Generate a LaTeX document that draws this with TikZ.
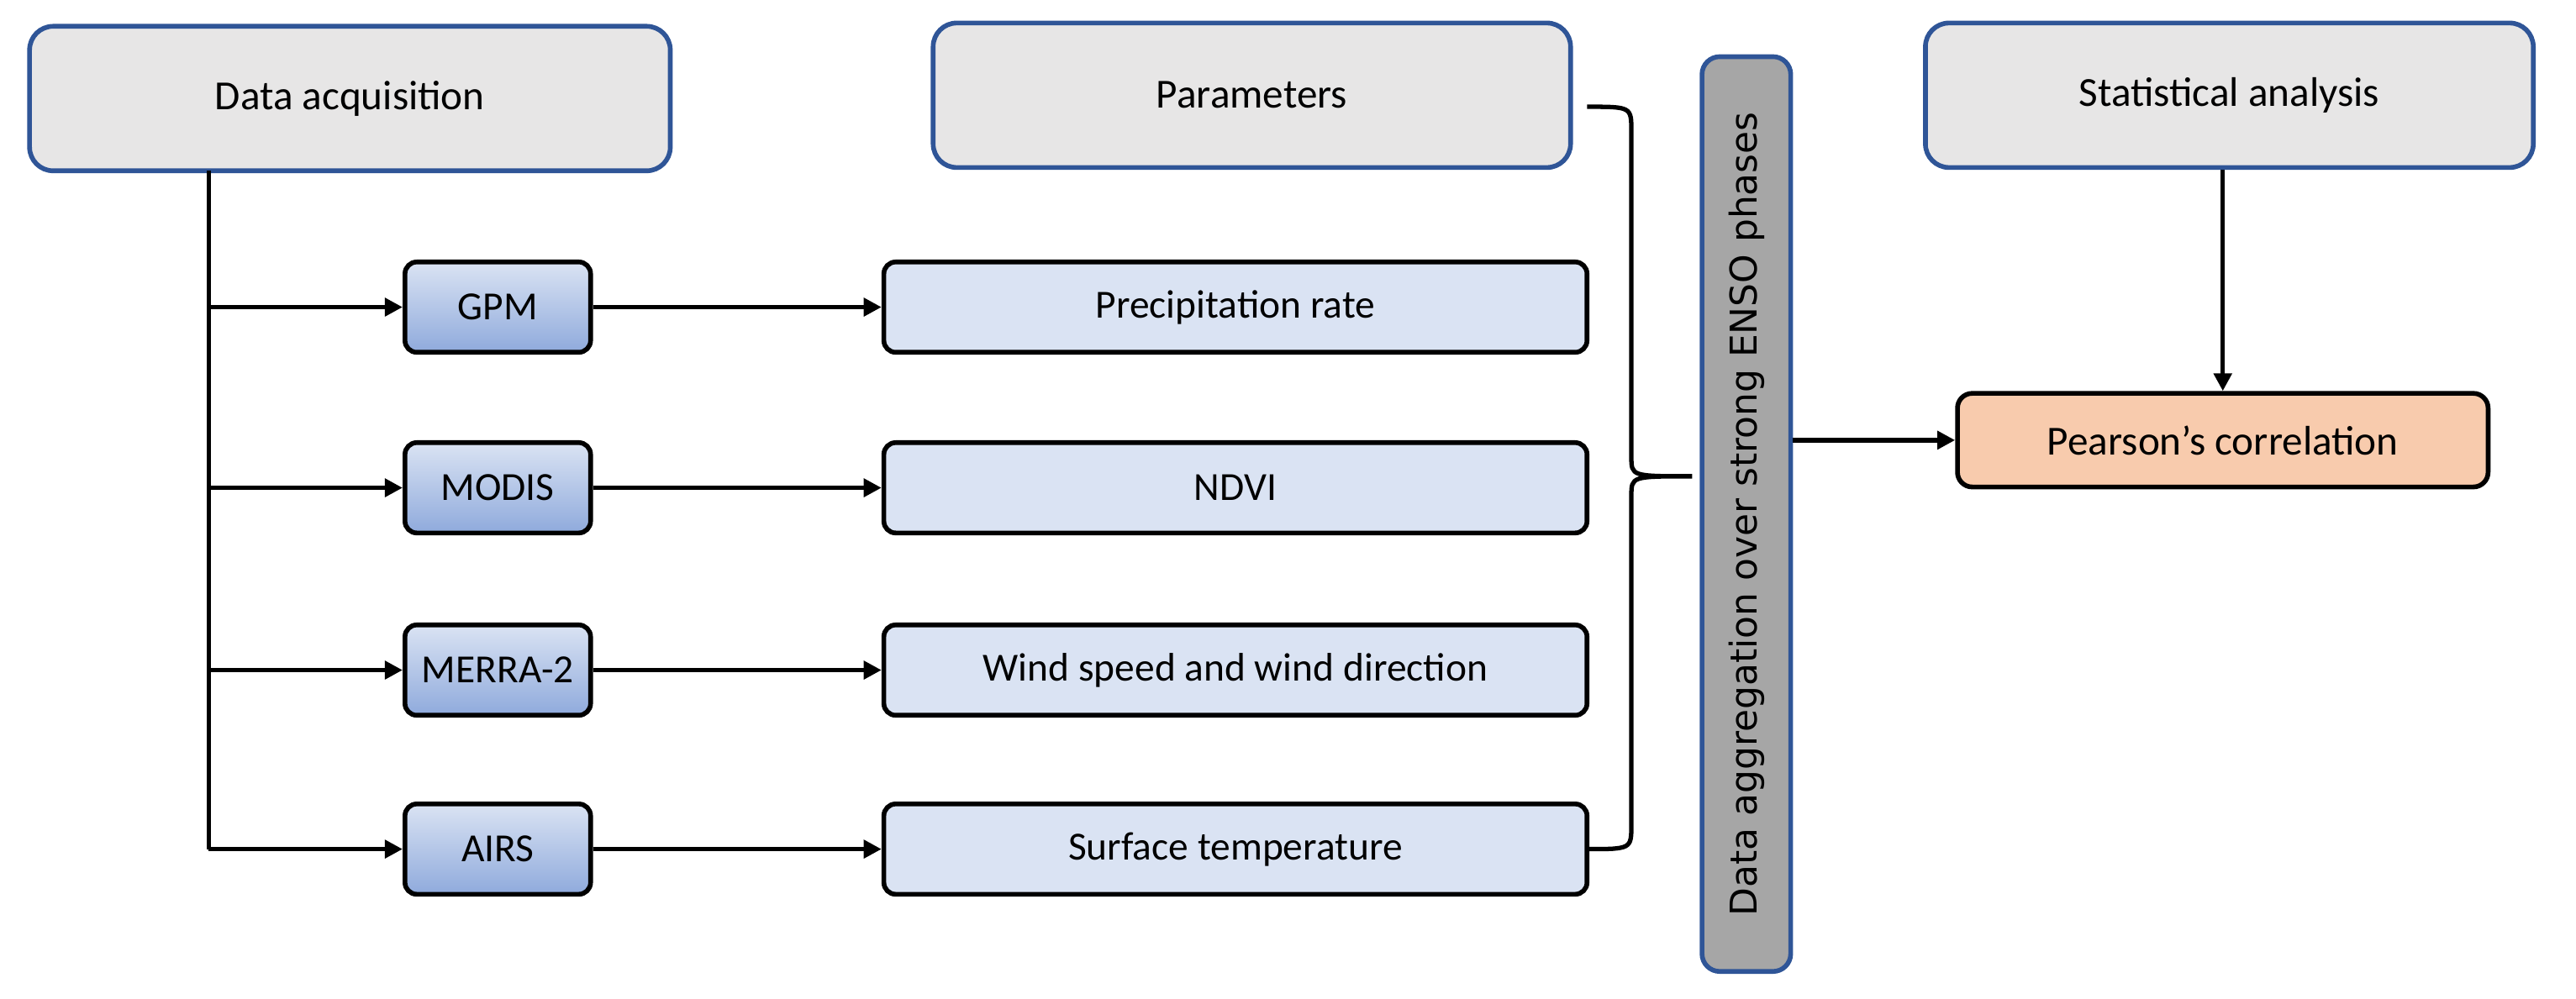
\documentclass[tikz,border=0pt]{standalone}
\usepackage{fontspec}
\setmainfont{Carlito}
\newfontfamily\dv{DejaVu Sans}
\usetikzlibrary{arrows.meta}
\definecolor{hdrfill}{HTML}{E7E6E6}
\definecolor{hdrline}{HTML}{2F5597}
\definecolor{srctop}{HTML}{DAE3F3}
\definecolor{srcbot}{HTML}{8FAADC}
\definecolor{parfill}{HTML}{DAE3F3}
\definecolor{grayfill}{HTML}{A6A6A6}
\definecolor{pfill}{HTML}{F8CBAD}
\begin{document}
\begin{tikzpicture}[x=0.01955cm,y=-0.01955cm,
  hdr/.style={draw=hdrline,line width=1.6pt,fill=hdrfill,rounded corners=8pt,font=\fontsize{14}{16}\selectfont},
  src/.style={draw=black,line width=1.6pt,top color=srctop,bottom color=srcbot,rounded corners=4pt,font=\fontsize{13.5}{15}\selectfont},
  par/.style={draw=black,line width=1.6pt,fill=parfill,rounded corners=4pt,font=\fontsize{13.5}{15}\selectfont},
  arr/.style={line width=1.5pt,-{Triangle[length=6pt,width=6pt]}},
  ln/.style={line width=1.5pt}]
\useasboundingbox (0,0) rectangle (1568,608);
\node[hdr,minimum width=390*0.01955cm,minimum height=88*0.01955cm] (da) at (213,60) {Data acquisition};
\node[hdr,minimum width=388*0.01955cm,minimum height=88*0.01955cm] (pa) at (762,58) {Parameters};
\node[hdr,minimum width=370*0.01955cm,minimum height=88*0.01955cm] (sa) at (1357,58) {Statistical analysis};
\foreach \n/\t/\y in {gpm/GPM/187,modis/MODIS/297,merra/MERRA-2/408,airs/AIRS/517}{
  \node[src,minimum width=113*0.01955cm,minimum height=55*0.01955cm] (\n) at (303,\y) {\t};
}
\node[par,minimum width=428*0.01955cm,minimum height=55*0.01955cm] (p1) at (752,187) {Precipitation rate};
\node[par,minimum width=428*0.01955cm,minimum height=55*0.01955cm] (p2) at (752,297) {NDVI};
\node[par,minimum width=428*0.01955cm,minimum height=55*0.01955cm] (p3) at (752,408) {Wind speed and wind direction};
\node[par,minimum width=428*0.01955cm,minimum height=55*0.01955cm] (p4) at (752,517) {Surface temperature};
\node[draw=hdrline,line width=1.6pt,fill=grayfill,rounded corners=6pt,minimum width=557*0.01955cm,minimum height=54*0.01955cm,rotate=90,font=\dv\fontsize{12.5}{14}\selectfont] (ag) at (1063,313) {Data aggregation over strong ENSO phases};
\node[draw=black,line width=1.6pt,fill=pfill,rounded corners=5pt,minimum width=323*0.01955cm,minimum height=57*0.01955cm,font=\fontsize{14}{16}\selectfont] (pc) at (1353,268) {Pearson’s correlation};
\coordinate (top) at (127,104);
\draw[ln] (top) -- (127,517);
\foreach \n/\y in {gpm/187,modis/297,merra/408,airs/517}{
  \draw[arr] (127,\y) -- (\n.west);
}
\draw[arr] (gpm) -- (p1);
\draw[arr] (modis) -- (p2);
\draw[arr] (merra) -- (p3);
\draw[arr] (airs) -- (p4);
\coordinate (b1) at (966,65);
\coordinate (b2) at (966,517);
\coordinate (tip) at (1030,290);
\draw[ln] (b1) .. controls (993,65) .. (993,80) -- (993,278) .. controls (993,290) .. (tip)
  .. controls (993,290) .. (993,302) -- (993,502) .. controls (993,517) .. (b2);
\draw[arr] (ag.south |- pc.west) -- (pc.west);
\draw[arr] (sa.south -| pc.north) -- (pc.north);
\end{tikzpicture}
\end{document}
